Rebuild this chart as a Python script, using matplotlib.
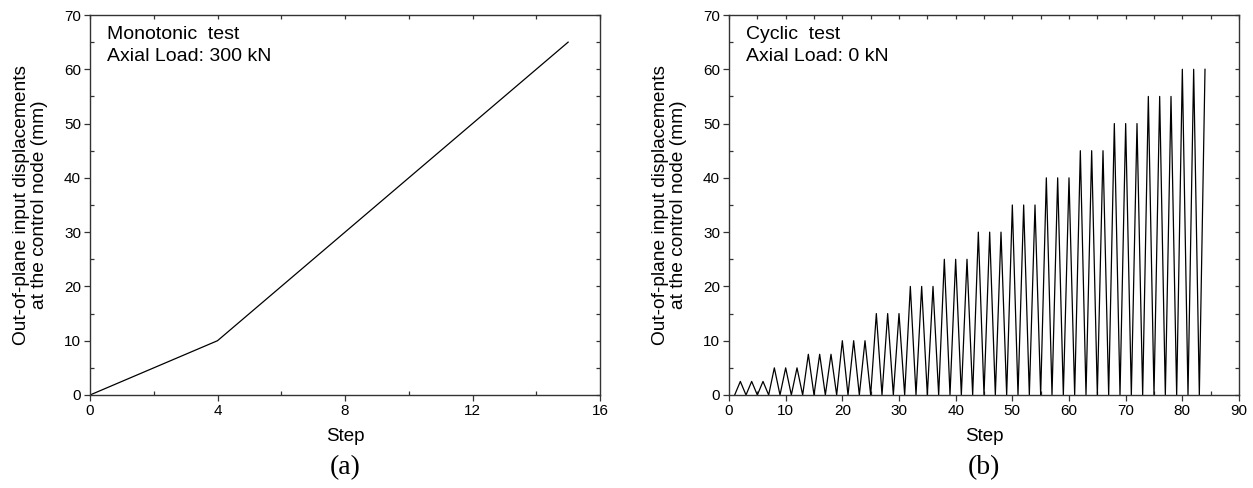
import matplotlib.pyplot as plt
from matplotlib.ticker import MultipleLocator

plt.rcParams['font.family'] = ['Liberation Sans', 'DejaVu Sans']

# Monotonic test: step vs imposed displacement (mm)
mono_step = [0, 4, 15]
mono_disp = [0, 10, 65]

# Cyclic test: peak displacement of each cycle (mm), three cycles per level
cyc_peaks = [2.5, 2.5, 2.5, 5, 5, 5, 7.5, 7.5, 7.5, 10, 10, 10,
             15, 15, 15, 20, 20, 20, 25, 25, 25, 30, 30, 30,
             35, 35, 35, 40, 40, 40, 45, 45, 45, 50, 50, 50,
             55, 55, 55, 60, 60, 60]
cyc_start_step = 1

cyc_step = []
cyc_disp = []
for i, p in enumerate(cyc_peaks):
    cyc_step += [cyc_start_step + 2 * i, cyc_start_step + 2 * i + 1]
    cyc_disp += [0, p]

ylabel = 'Out-of-plane input displacements\nat the control node (mm)'
spine_col = '#333333'

fig = plt.figure(figsize=(12.53, 4.88), dpi=100)
ax1 = fig.add_axes([90 / 1253, 1 - 395 / 488, 510 / 1253, 380 / 488])
ax2 = fig.add_axes([729 / 1253, 1 - 395 / 488, 510 / 1253, 380 / 488])


def style_axes(ax, xmax, xmajor, xminor, letter, title1, title2):
    ax.set_xlim(0, xmax)
    ax.set_ylim(0, 70)
    ax.xaxis.set_major_locator(MultipleLocator(xmajor))
    ax.xaxis.set_minor_locator(MultipleLocator(xminor))
    ax.yaxis.set_major_locator(MultipleLocator(10))
    ax.yaxis.set_minor_locator(MultipleLocator(5))
    ax.tick_params(which='major', direction='out', length=4, width=0.9,
                   color=spine_col, labelsize=11, pad=2.5)
    ax.tick_params(which='minor', direction='in', length=3, width=0.9,
                   color=spine_col)
    for s in ax.spines.values():
        s.set_color(spine_col)
        s.set_linewidth(1.0)

    # small inward ticks on top and right
    top = ax.secondary_xaxis('top')
    top.xaxis.set_major_locator(MultipleLocator(xminor))
    top.tick_params(direction='in', length=3, width=0.9, color=spine_col,
                    labeltop=False)
    top.spines['top'].set_visible(False)
    right = ax.secondary_yaxis('right')
    right.yaxis.set_major_locator(MultipleLocator(5))
    right.tick_params(direction='in', length=3, width=0.9, color=spine_col,
                      labelright=False)
    right.spines['right'].set_visible(False)

    ax.set_xlabel('Step', fontsize=13.5)
    ax.xaxis.set_label_coords(0.5, -0.087)
    ax.set_ylabel(ylabel, fontsize=13.8, multialignment='center',
                  linespacing=1.1)
    ax.yaxis.set_label_coords(-0.082, 0.5)
    ax.text(0.034, 0.937, title1, transform=ax.transAxes, fontsize=14,
            va='baseline', ha='left')
    ax.text(0.034, 0.879, title2, transform=ax.transAxes, fontsize=14,
            va='baseline', ha='left')
    ax.text(0.5, -0.192, letter, transform=ax.transAxes, fontsize=20,
            family='Liberation Serif', ha='center', va='center')


ax1.plot(mono_step, mono_disp, color='black', linewidth=0.9)
style_axes(ax1, 16, 4, 2, '(a)', 'Monotonic  test', 'Axial Load: 300 kN')

ax2.plot(cyc_step, cyc_disp, color='black', linewidth=0.9)
style_axes(ax2, 90, 10, 5, '(b)', 'Cyclic  test', 'Axial Load: 0 kN')

fig.savefig('out.png', dpi=100)
